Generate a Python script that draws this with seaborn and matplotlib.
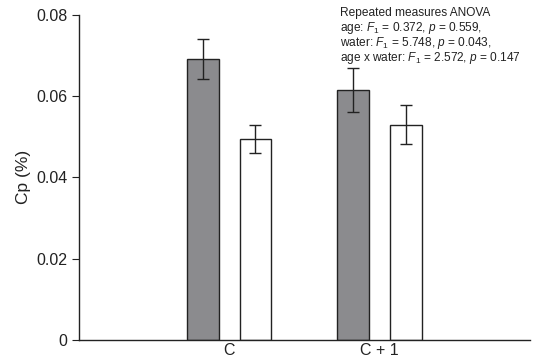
import numpy as np
import pandas as pd
import matplotlib
matplotlib.use("Agg")
import matplotlib.pyplot as plt
import seaborn as sns

# data
sessions = ["C", "C", "C + 1", "C + 1"]
groups = ["dark", "light", "dark", "light"]
cp_mean = [0.0691, 0.0495, 0.0615, 0.0530]
cp_err = [0.0049, 0.0034, 0.0055, 0.0047]
yticks = [0, 0.02, 0.04, 0.06, 0.08]
ytick_labels = ["0", "0.02", "0.04", "0.06", "0.08"]
anova_lines = ["Repeated measures ANOVA",
               "age: $F_1$ = 0.372, $p$ = 0.559,",
               "water: $F_1$ = 5.748, $p$ = 0.043,",
               "age x water: $F_1$ = 2.572, $p$ = 0.147"]

df = pd.DataFrame({"session": sessions, "group": groups,
                   "cp": cp_mean, "err": cp_err})

sns.set_style("ticks")
plt.rcParams['font.family'] = ['Liberation Sans', 'DejaVu Sans']
plt.rcParams['mathtext.fontset'] = 'custom'
plt.rcParams['mathtext.it'] = 'Liberation Sans:italic'
plt.rcParams['mathtext.rm'] = 'Liberation Sans'

fig = plt.figure(figsize=(5.4, 3.62), dpi=100)
ax = fig.add_axes([0.146, 0.061, 0.835, 0.898])

sns.barplot(data=df, x="session", y="cp", hue="group",
            palette={"dark": "#8a8b8e", "light": "white"},
            width=0.7, gap=0.4, errorbar=None, legend=False,
            edgecolor="#222222", linewidth=1.0, ax=ax)

# error bars at bar centres
for patch, (_, row) in zip(ax.patches, df.sort_values(["group", "session"]).iterrows()):
    xc = patch.get_x() + patch.get_width() / 2
    ax.errorbar(xc, patch.get_height(), yerr=row["err"], color="#222222",
                capsize=4, elinewidth=1.0, capthick=1.0)

ax.set_xlim(-1, 2)
ax.set_ylim(0, 0.08)
ax.set_yticks(yticks)
ax.set_yticklabels(ytick_labels)
ax.set_xlabel("")
ax.set_ylabel("Cp (%)", fontsize=12.5, color="#222222", labelpad=4)
ax.tick_params(axis="y", labelsize=11.5, length=5, width=0.8, colors="#222222", pad=3)
ax.tick_params(axis="x", labelsize=11.5, length=0, colors="#222222", pad=2)
sns.despine(ax=ax)
for s in ["left", "bottom"]:
    ax.spines[s].set_color("#222222")
    ax.spines[s].set_linewidth(1.0)

# stats box, one line at a time with a fixed pitch
for i, line in enumerate(anova_lines):
    ax.text(0.58, 1.006 - i * 0.0465, line, transform=ax.transAxes,
            ha="left", va="center", fontsize=8.6, color="#222222")

fig.savefig("out.png", dpi=100)
